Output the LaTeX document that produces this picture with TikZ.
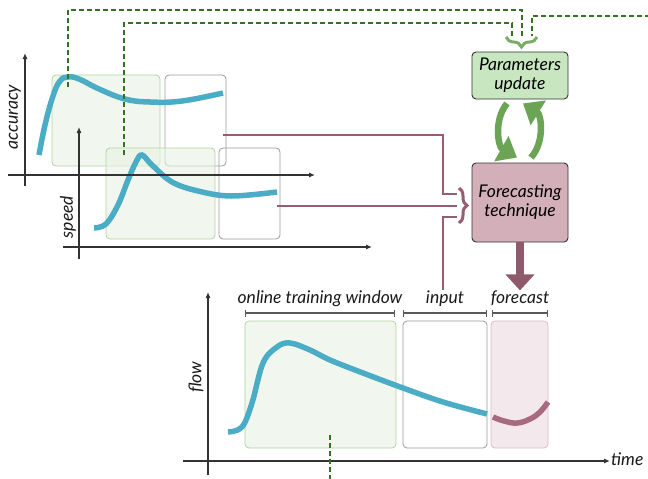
\documentclass[tikz,border=0pt]{standalone}
\usepackage{fontspec}
\setmainfont{Lato}
\usetikzlibrary{arrows.meta,decorations.pathreplacing}
\definecolor{winl}{RGB}{176,212,160}
\definecolor{winf}{RGB}{232,242,226}
\definecolor{fcl}{RGB}{222,184,198}
\definecolor{fcf}{RGB}{243,233,237}
\definecolor{flowc}{RGB}{75,172,198}
\definecolor{predc}{RGB}{168,106,126}
\definecolor{dfb}{RGB}{56,112,34}
\definecolor{lnk}{RGB}{152,92,112}
\definecolor{outc}{RGB}{143,90,107}
\definecolor{cycg}{RGB}{106,164,84}
\definecolor{parf}{RGB}{200,231,192}
\definecolor{fctf}{RGB}{211,175,186}

\begin{document}
\begin{tikzpicture}[x=1pt,y=-1pt,
    win/.style={draw=winl,fill=winf,fill opacity=0.6,rounded corners=4pt,
                line width=0.8pt,inner sep=0pt},
    inp/.style={draw=black!40,rounded corners=4pt,line width=0.8pt,inner sep=0pt},
    fcw/.style={draw=fcl,fill=fcf,rounded corners=4pt,line width=0.8pt,inner sep=0pt},
    blk/.style={draw=black!80,rounded corners=4pt,line width=0.9pt,inner sep=0pt,
                minimum width=96pt,font=\itshape\fontsize{17.5}{19}\selectfont,align=center},
    lbl/.style={font=\itshape\fontsize{17.5}{19}\selectfont,text=black!90,inner sep=0pt},
    axis/.style={-{Latex[length=6pt,width=5pt]},line width=1.1pt,black!80},
    curve/.style={line width=5.5pt,flowc},
    fb/.style={dfb,line width=1.2pt,dash pattern=on 5pt off 3pt},
    link/.style={lnk,line width=2pt},
    dim/.style={{Bar[width=7pt]}-{Bar[width=7pt]},line width=1.2pt,black!65},
    cyc/.style={cycg,line width=6.5pt,-{Triangle[length=18pt,width=28pt]}},
    br/.style={decorate,decoration={brace,amplitude=#1}}]
    \useasboundingbox (0,0) rectangle (648,479);

    \node[win,minimum width=108pt,minimum height=91pt] (w1) at (106,120.5) {};
    \node[inp,minimum width=61pt,minimum height=91pt] (g1) at (195.5,120.5) {};
    \draw[curve] plot[smooth,tension=0.7] coordinates {(39,155) (45,125) (53,96) (60,81)
      (68,77) (79,79) (99,89) (125,99) (150,102) (182,101) (223,93)};
    \node[win,minimum width=109pt,minimum height=91pt] (w2) at (160.5,193.5) {};
    \node[inp,minimum width=61pt,minimum height=91pt] (g2) at (249.5,193.5) {};
    \draw[curve] plot[smooth,tension=0.6] coordinates {(94,228) (106,224) (118,205) (128,180)
      (136,162) (142,155) (152,165) (172,182) (198,191) (231,196) (277,192)};
    \node[win,minimum width=151pt,minimum height=127pt] (w3) at (320.5,384.5) {};
    \node[inp,minimum width=84pt,minimum height=127pt] (g3) at (445,384.5) {};
    \node[fcw,minimum width=57pt,minimum height=127pt] (f3) at (519.5,384.5) {};
    \draw[curve] plot[smooth,tension=0.6] coordinates {(228,432) (242,427) (252,403) (263,363)
      (277,347) (290,343) (310,350) (330,360) (363,373) (403,388) (443,402) (487,414)};
    \draw[curve,predc] plot[smooth,tension=0.7] coordinates {(493,417) (504,421) (517,423)
      (530,419) (540,412) (548,402)};

    \coordinate (ay0) at (25,186);  \coordinate (ay1) at (25,53);
    \coordinate (ax0) at (8,175);   \coordinate (ax1) at (315,175);
    \coordinate (sy0) at (79,259);  \coordinate (sy1) at (79,127);
    \coordinate (sx0) at (63,247);  \coordinate (sx1) at (372,247);
    \coordinate (fy0) at (208,475); \coordinate (fy1) at (208,292);
    \coordinate (tx0) at (183,461); \coordinate (tx1) at (610,461);
    \foreach \a/\b in {ay0/ay1,ax0/ax1,sy0/sy1,sx0/sx1,fy0/fy1,tx0/tx1}
      \draw[axis] (\a)--(\b);

    \node[lbl,rotate=90] (acc) at (15,117) {accuracy};
    \node[lbl,rotate=90] (spd) at (68,217) {speed};
    \node[lbl,rotate=90] (flw) at (196,377) {flow};
    \node[lbl,anchor=west] (tm) at (611,459) {time};

    \node[lbl,anchor=base] (otw) at (320,303) {online training window};
    \node[lbl,anchor=base] (in) at (445,303) {input};
    \node[lbl,anchor=base] (fcs) at (520,303) {forecast};
    \draw[dim] (245,313) -- (395,313);
    \draw[dim] (403,313) -- (487,313);
    \draw[dim] (492,313) -- (548,313);

    \node[blk,fill=parf,minimum height=47pt] (par) at (520,75.5) {Parameters\\update};
    \node[blk,fill=fctf,minimum height=79pt] (fct) at (520,202.5) {Forecasting\\technique};

    \coordinate (pk1) at (68,87);  \coordinate (pk2) at (124,155);
    \coordinate (t1) at (522,36);  \coordinate (t2) at (512,36);
    \coordinate (t3) at (532,36);  \coordinate (rt) at (650,16);
    \coordinate (bt1) at (330,435); \coordinate (bt2) at (330,481);
    \draw[fb] (pk1) -- ++(0,-77) -| (t1);
    \draw[fb] (pk2) -- ++(0,-132) -| (t2);
    \draw[fb] (rt) -| (t3);
    \draw[fb] (bt1) -- (bt2);
    \draw[br=10,cycg!90,line width=3pt] (537,37) -- (506,37);

    \coordinate (a1) at (223,135); \coordinate (a2) at (277,206);
    \coordinate (b1) at (457,194); \coordinate (b2) at (457,206);
    \coordinate (b3) at (457,217);
    \draw[link] (a1) -- (443,135) |- (b1);
    \draw[link] (a2) -- (b2);
    \draw[link] ([xshift=-2pt]in.north) |- (b3);
    \draw[br=8,lnk,line width=3pt] (459,188) -- (459,223);

    \draw[cyc] ([shift={(-13pt,-4pt)}]par.south) to[bend right=50] ([shift={(-3pt,5pt)}]fct.north);
    \draw[cyc] ([shift={(11pt,5pt)}]fct.north) to[bend right=50] ([shift={(3pt,-4pt)}]par.south);
    \draw[outc,line width=8pt,-{Triangle[length=16pt,width=28pt]}] (fct.south) -- ++(0,48);
  \end{tikzpicture}
\end{document}
